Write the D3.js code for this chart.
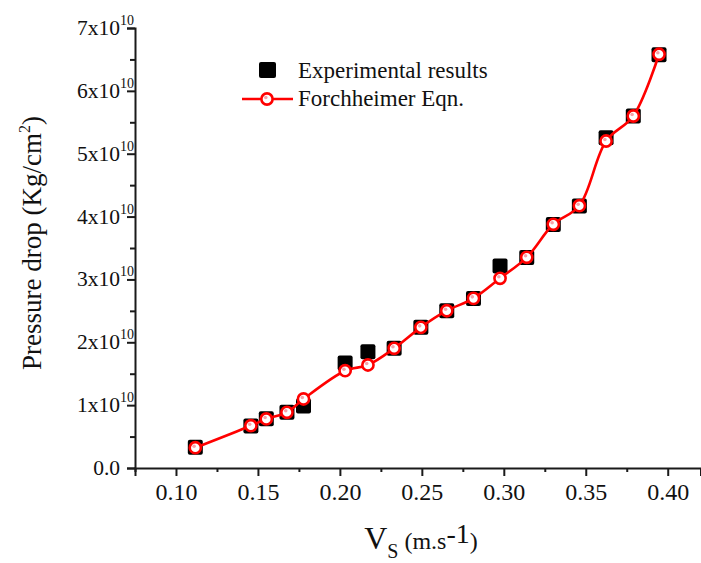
<!DOCTYPE html>
<html>
<head>
<meta charset="utf-8">
<script src="https://cdn.jsdelivr.net/npm/d3@7"></script>
<style>
  body { margin: 0; background: #fff; }
  svg { display: block; font-family: "Liberation Serif", "Times New Roman", serif; }
</style>
</head>
<body>
<svg id="chart"></svg>
<script>
const width = 701;
const height = 563;

// superficial velocity (m/s)
const vs = [0.1118, 0.1457, 0.1551, 0.1677, 0.1778, 0.2032, 0.2171, 0.2331, 0.2494,
            0.2652, 0.2815, 0.2977, 0.3140, 0.3302, 0.3461, 0.3624, 0.3790, 0.3947];
// pressure drop, experiment
const experimental = [0.330e10, 0.670e10, 0.785e10, 0.885e10, 0.985e10, 1.670e10, 1.850e10, 1.905e10, 2.240e10,
                      2.500e10, 2.695e10, 3.215e10, 3.350e10, 3.875e10, 4.170e10, 5.255e10, 5.600e10, 6.575e10];
// pressure drop, Forchheimer equation
const forchheimer = [0.323e10, 0.673e10, 0.780e10, 0.886e10, 1.098e10, 1.548e10, 1.639e10, 1.904e10, 2.238e10,
                     2.502e10, 2.699e10, 3.018e10, 3.352e10, 3.877e10, 4.173e10, 5.202e10, 5.600e10, 6.582e10];

const xTicks = [0.10, 0.15, 0.20, 0.25, 0.30, 0.35, 0.40];
const xMinor = [0.075, 0.125, 0.175, 0.225, 0.275, 0.325, 0.375];
const yTicks = [0, 1e10, 2e10, 3e10, 4e10, 5e10, 6e10, 7e10];
const yMinor = [0.5e10, 1.5e10, 2.5e10, 3.5e10, 4.5e10, 5.5e10, 6.5e10];

const svg = d3.select("#chart")
    .attr("width", width)
    .attr("height", height);

const x = d3.scaleLinear().domain([0.075, 0.42]).range([135, 700.5]);
const y = d3.scaleLinear().domain([0, 7e10]).range([468, 28]);

const axisColor = "#1a1a1a";

// x axis
const xAxis = svg.append("g")
    .attr("transform", `translate(0,${y(0)})`)
    .call(d3.axisBottom(x).tickValues(xTicks).tickSize(8).tickPadding(7)
        .tickFormat(d3.format(".2f")));
xAxis.append("g")
    .call(d3.axisBottom(x).tickValues(xMinor).tickSize(4).tickFormat(""))
    .select(".domain").remove();

// y axis
const yAxis = svg.append("g")
    .attr("transform", `translate(${x(0.075)},0)`)
    .call(d3.axisLeft(y).tickValues(yTicks).tickSize(8).tickPadding(7).tickFormat(""));
yAxis.append("g")
    .call(d3.axisLeft(y).tickValues(yMinor).tickSize(5).tickFormat(""))
    .select(".domain").remove();

[xAxis, yAxis].forEach(g => {
  g.selectAll(".domain").attr("stroke", axisColor).attr("stroke-width", 2);
  g.selectAll(".tick line").attr("stroke", axisColor).attr("stroke-width", 2);
});
xAxis.attr("font-family", null).attr("font-size", null);
xAxis.selectAll(".tick text")
    .attr("fill", "#111")
    .style("font-size", "24px");

// y tick labels: 0.0, 1x10^10 ...
yTicks.forEach(v => {
  const t = svg.append("text")
      .attr("x", 120)
      .attr("y", y(v) + 7)
      .attr("text-anchor", "end")
      .attr("fill", "#111")
      .style("font-size", "21.5px");
  if (v === 0) {
    t.text("0.0");
  } else {
    t.text(`${v / 1e10}x10`);
    svg.append("text")
        .attr("x", 120)
        .attr("y", y(v) - 3)
        .attr("fill", "#111")
        .style("font-size", "14px")
        .text("10");
  }
});

// fitted curve
const line = d3.line()
    .x((d, i) => x(vs[i]))
    .y(d => y(d))
    .curve(d3.curveCatmullRom.alpha(0.5));

// experimental squares
svg.append("g")
  .selectAll("rect")
  .data(experimental)
  .join("rect")
    .attr("x", (d, i) => x(vs[i]) - 7.5)
    .attr("y", d => y(d) - 7.5)
    .attr("width", 15)
    .attr("height", 15)
    .attr("rx", 2)
    .attr("fill", "#000");

svg.append("path")
    .datum(forchheimer)
    .attr("fill", "none")
    .attr("stroke", "#ff0000")
    .attr("stroke-width", 2.6)
    .attr("d", line);

function ringMarker(g, cx, cy) {
  g.append("circle")
      .attr("cx", cx).attr("cy", cy).attr("r", 5.6)
      .attr("fill", "#fff")
      .attr("stroke", "#ff0000")
      .attr("stroke-width", 2.6);
  g.append("circle")
      .attr("cx", cx - 1.2).attr("cy", cy - 1.5).attr("r", 1.8)
      .attr("fill", "#f6a3ab");
}

const fitG = svg.append("g");
forchheimer.forEach((d, i) => ringMarker(fitG, x(vs[i]), y(d)));

// legend
const legend = svg.append("g");
legend.append("rect")
    .attr("x", 259).attr("y", 62).attr("width", 17).attr("height", 16)
    .attr("rx", 2).attr("fill", "#000");
legend.append("text")
    .attr("x", 298).attr("y", 78)
    .style("font-size", "23px").attr("fill", "#111")
    .text("Experimental results");
legend.append("line")
    .attr("x1", 242).attr("x2", 293).attr("y1", 99).attr("y2", 99)
    .attr("stroke", "#ff0000").attr("stroke-width", 2.6);
ringMarker(legend, 267, 99);
legend.append("text")
    .attr("x", 298).attr("y", 106)
    .style("font-size", "23px").attr("fill", "#111")
    .text("Forchheimer Eqn.");

// axis titles
const yTitle = svg.append("text")
    .attr("transform", "translate(41,243) rotate(-90)")
    .attr("text-anchor", "middle")
    .attr("fill", "#111")
    .style("font-size", "27px");
yTitle.append("tspan").text("Pressure drop (Kg/cm");
yTitle.append("tspan").attr("dy", -11).style("font-size", "16px").text("2");
yTitle.append("tspan").attr("dy", 11).text(")");

const xTitle = svg.append("text")
    .attr("x", 421).attr("y", 549)
    .attr("text-anchor", "middle")
    .attr("fill", "#111")
    .style("font-size", "24px");
xTitle.append("tspan").style("font-size", "32px").text("V");
xTitle.append("tspan").attr("dy", 9).style("font-size", "20px").text("S");
xTitle.append("tspan").attr("dy", -9).text(" (m.s");
xTitle.append("tspan").attr("dy", -6).style("font-size", "28px").text("-1");
xTitle.append("tspan").attr("dy", 6).text(")");
</script>
</body>
</html>
